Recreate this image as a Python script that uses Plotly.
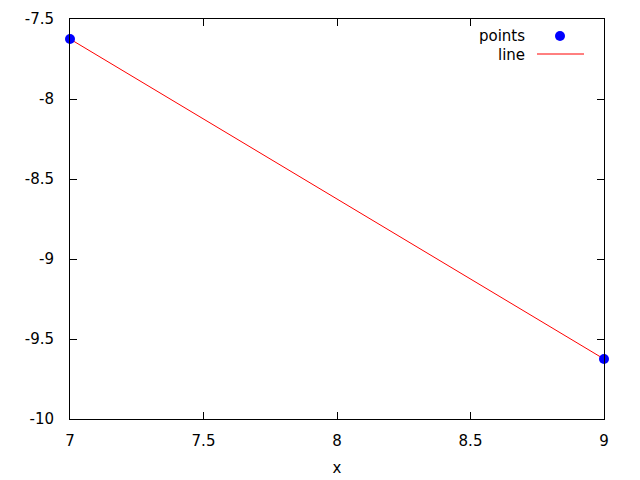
import plotly.graph_objects as go

x_vals = [7, 9]
y_vals = [-7.625, -9.625]
x_ticks = [7, 7.5, 8, 8.5, 9]
x_tick_text = ["7", "7.5", "8", "8.5", "9"]
y_ticks = [-10, -9.5, -9, -8.5, -8, -7.5]
y_tick_text = ["-10", "-9.5", "-9", "-8.5", "-8", "-7.5"]

FONT = "DejaVu Sans"
FS = 15
OFF = 8  # page body margin offset
FW, FH = 640 - OFF, 480 - OFF
L, R, T, B = 70 - OFF, 604 - OFF, 19 - OFF, 419 - OFF  # figure coordinates
W, H = R - L, B - T

def px(x):
    return (x - OFF - L) / W

def py(y):
    return (B - (y - OFF)) / H

fig = go.Figure()
fig.add_trace(go.Scatter(x=x_vals, y=y_vals, mode="lines",
                         line=dict(color="#ff0000", width=1), showlegend=False))
fig.add_trace(go.Scatter(x=x_vals, y=y_vals, mode="markers",
                         marker=dict(color="#0000ff", size=10), showlegend=False,
                         cliponaxis=False))

axis_common = dict(showgrid=False, zeroline=False, showline=True, linecolor="black",
                   linewidth=1, mirror="allticks", ticks="inside", ticklen=7,
                   tickcolor="black", tickwidth=1, automargin=False,
                   tickfont=dict(family=FONT, size=FS, color="black"))

fig.update_xaxes(range=[7, 9], tickvals=x_ticks, ticktext=x_tick_text,
                 title=dict(text="x", font=dict(family=FONT, size=FS, color="black"), standoff=13),
                 ticklabelstandoff=8, **axis_common)
fig.update_yaxes(range=[-10, -7.5], tickvals=y_ticks, ticktext=y_tick_text,
                 ticklabelstandoff=12, **axis_common)

# legend (gnuplot style: text on left, sample on right)
fig.add_annotation(x=px(527), y=py(36), xref="paper", yref="paper", text="points",
                   showarrow=False, xanchor="right", yanchor="middle",
                   font=dict(family=FONT, size=FS, color="black"))
fig.add_annotation(x=px(527), y=py(55), xref="paper", yref="paper", text="line",
                   showarrow=False, xanchor="right", yanchor="middle",
                   font=dict(family=FONT, size=FS, color="black"))
fig.add_shape(type="circle", xref="paper", yref="paper",
              x0=px(555), x1=px(565), y0=py(41), y1=py(31),
              fillcolor="#0000ff", line=dict(width=0))
fig.add_shape(type="line", xref="paper", yref="paper",
              x0=px(537), x1=px(584), y0=py(54), y1=py(54),
              line=dict(color="#ff0000", width=1))

fig.update_layout(width=FW, height=FH, margin=dict(l=L, r=FW - R, t=T, b=FH - B),
                  paper_bgcolor="white", plot_bgcolor="white", showlegend=False,
                  font=dict(family=FONT, size=FS, color="black"))

fig.write_html("out.html")
